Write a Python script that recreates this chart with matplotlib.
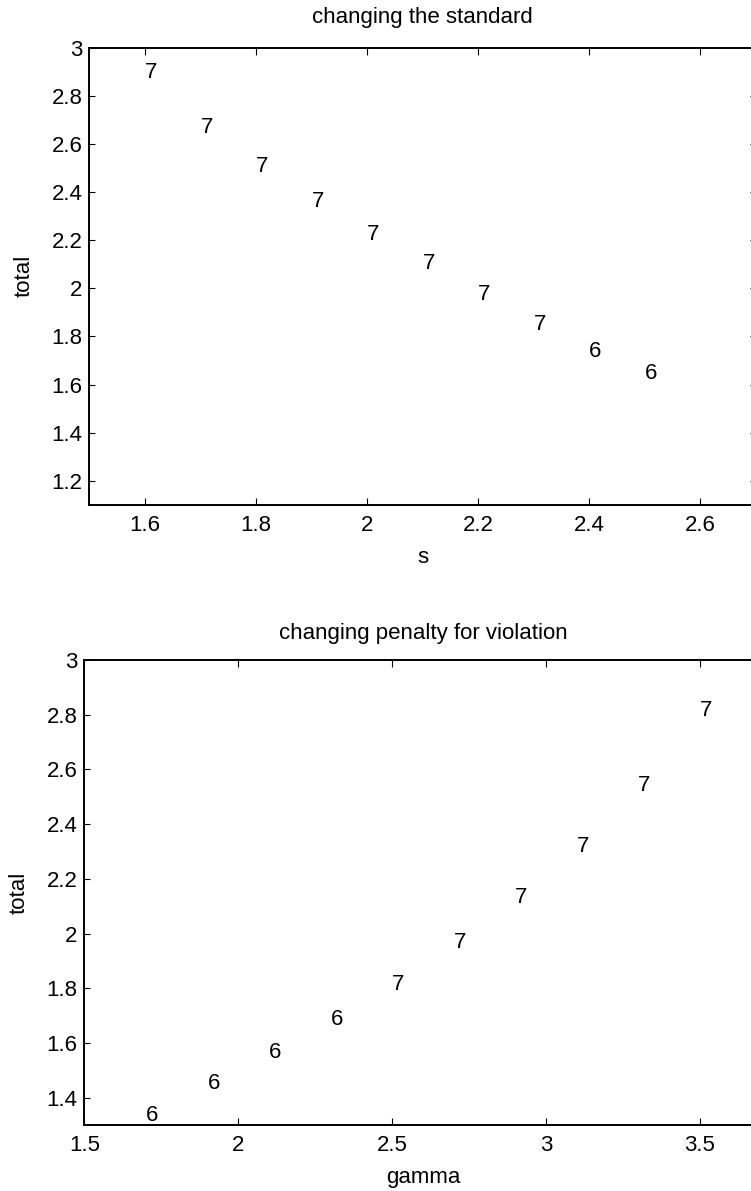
import numpy as np
import matplotlib
matplotlib.use("Agg")
import matplotlib.pyplot as plt
from matplotlib.ticker import FormatStrFormatter

plt.rcParams.update({
    "font.family": ["Liberation Sans", "DejaVu Sans"],
    "font.size": 16,
    "xtick.direction": "in",
    "ytick.direction": "in",
})

# top panel: total vs. the standard s
s_vals = [1.6, 1.7, 1.8, 1.9, 2.0, 2.1, 2.2, 2.3, 2.4, 2.5]
s_total = [2.895, 2.669, 2.506, 2.359, 2.223, 2.102, 1.975, 1.851, 1.739, 1.646]
s_count = ["7", "7", "7", "7", "7", "7", "7", "7", "6", "6"]

# bottom panel: total vs. penalty gamma
gamma_vals = [1.7, 1.9, 2.1, 2.3, 2.5, 2.7, 2.9, 3.1, 3.3, 3.5]
gamma_total = [1.333, 1.453, 1.565, 1.684, 1.813, 1.968, 2.131, 2.320, 2.542, 2.814]
gamma_count = ["6", "6", "6", "6", "7", "7", "7", "7", "7", "7"]

W, H = 751, 1191
fig = plt.figure(figsize=(W / 100, H / 100), dpi=100)


def px_axes(left, top, right, bottom):
    return fig.add_axes([left / W, 1 - bottom / H, (right - left) / W, (bottom - top) / H])


def style(ax):
    for sp in ax.spines.values():
        sp.set_linewidth(1.4)
    ax.tick_params(axis="x", which="both", top=True, bottom=True, length=5, width=0.8, pad=7)
    ax.tick_params(axis="y", which="both", left=True, right=True, length=4, width=0.8, pad=5)
    ax.xaxis.set_major_formatter(FormatStrFormatter("%g"))
    ax.yaxis.set_major_formatter(FormatStrFormatter("%g"))


ax1 = px_axes(89.3, 47.5, 756, 505)
for x, y, lab in zip(s_vals, s_total, s_count):
    ax1.text(x, y, lab, ha="left", va="center", fontsize=16)
ax1.set_xlim(1.5, 2.7)
ax1.set_ylim(1.1, 3.0)
ax1.set_xticks(np.arange(1.6, 2.61, 0.2))
ax1.set_yticks(np.arange(1.2, 3.01, 0.2))
style(ax1)
ax1.set_title("changing the standard", fontsize=16, pad=18)
ax1.set_xlabel("s", labelpad=8)
ax1.set_ylabel("total", labelpad=12)

ax2 = px_axes(84.3, 660, 761.5, 1125)
for x, y, lab in zip(gamma_vals, gamma_total, gamma_count):
    ax2.text(x, y, lab, ha="left", va="center", fontsize=16)
ax2.set_xlim(1.5, 3.7)
ax2.set_ylim(1.3, 3.0)
ax2.set_xticks(np.arange(1.5, 3.51, 0.5))
ax2.set_yticks(np.arange(1.4, 3.01, 0.2))
style(ax2)
ax2.set_title("changing penalty for violation", fontsize=16, pad=15)
ax2.set_xlabel("gamma", labelpad=8)
ax2.set_ylabel("total", labelpad=12)

fig.savefig("out.png", dpi=100)
